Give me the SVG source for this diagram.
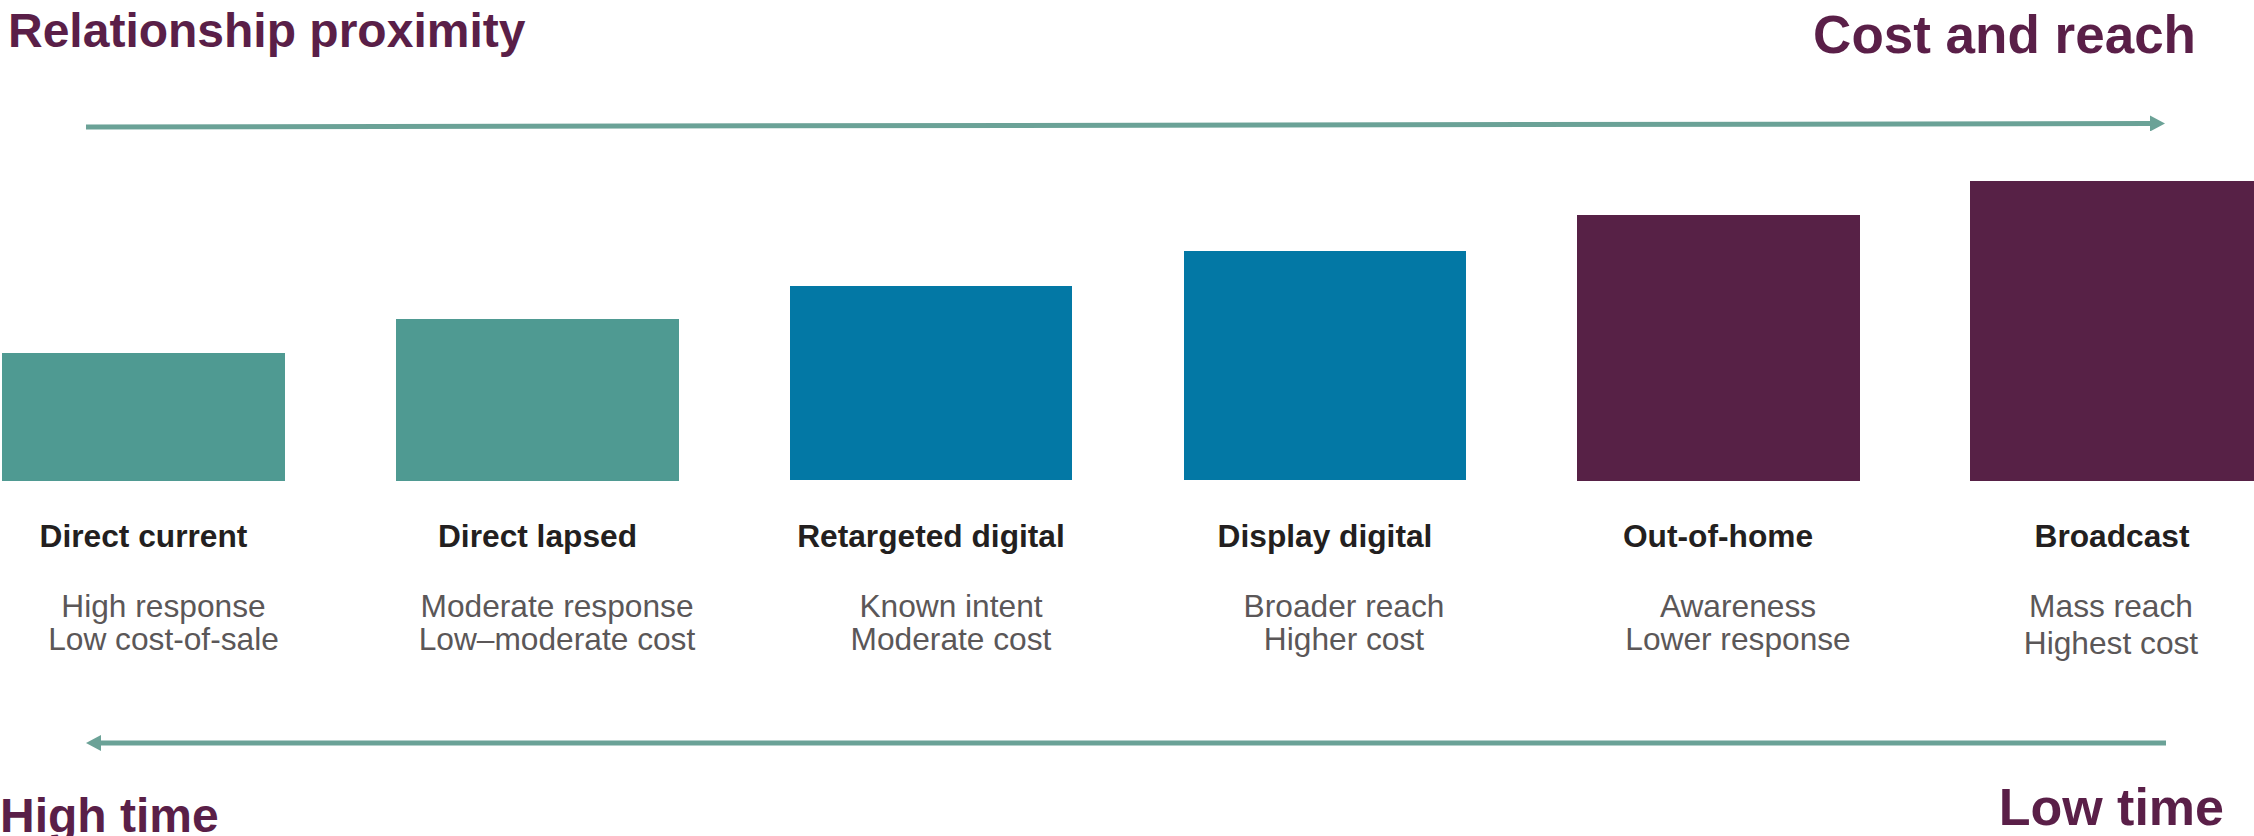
<svg xmlns="http://www.w3.org/2000/svg" width="2254" height="836" viewBox="0 0 2254 836">
  <style>
    .title { font-family: "Liberation Sans", Arial, sans-serif; font-weight: bold; fill: #5a1f48; }
    .label { font-family: "Liberation Sans", Arial, sans-serif; font-weight: bold; font-size: 31.7px; fill: #231f20; text-anchor: middle; }
    .sub { font-family: "Liberation Sans", Arial, sans-serif; font-size: 31.7px; fill: #5b5758; text-anchor: middle; }
    .teal { fill: #4f9a92; }
    .blue { fill: #0378a5; }
    .plum { fill: #572146; }
    .axis { stroke: #6ba297; stroke-width: 5; fill: none; }
  </style>
  <defs>
    <marker id="head" viewBox="0 -8 15 16" refX="0" refY="0" markerWidth="15" markerHeight="16" markerUnits="userSpaceOnUse" orient="auto">
      <path d="M0,-8 L15,0 L0,8 z" fill="#6ba297"/>
    </marker>
  </defs>

  <rect width="2254" height="836" fill="#ffffff"/>

  <!-- axis titles -->
  <text class="title" x="8" y="47" font-size="48">Relationship proximity</text>
  <text class="title" x="2196" y="53" font-size="53" text-anchor="end">Cost and reach</text>
  <text class="title" x="0" y="832" font-size="48">High time</text>
  <text class="title" x="2224" y="825" font-size="52" text-anchor="end">Low time</text>

  <!-- direction arrows -->
  <g id="connectors">
    <line class="axis" x1="86" y1="127" x2="2150" y2="123.5" marker-end="url(#head)"/>
    <line class="axis" x1="2166" y1="743" x2="101" y2="743" marker-end="url(#head)"/>
  </g>

  <!-- channel columns -->
  <g id="direct-current">
    <rect class="teal" x="2" y="353" width="283" height="128"/>
    <text class="label" x="143.5" y="547">Direct current</text>
    <text class="sub" x="163.5" y="617">High response</text>
    <text class="sub" x="163.5" y="650">Low cost-of-sale</text>
  </g>
  <g id="direct-lapsed">
    <rect class="teal" x="396" y="319" width="283" height="162"/>
    <text class="label" x="537.5" y="547">Direct lapsed</text>
    <text class="sub" x="557" y="617">Moderate response</text>
    <text class="sub" x="557" y="650">Low–moderate cost</text>
  </g>
  <g id="retargeted-digital">
    <rect class="blue" x="790" y="286" width="282" height="194"/>
    <text class="label" x="931" y="547">Retargeted digital</text>
    <text class="sub" x="951" y="617">Known intent</text>
    <text class="sub" x="951" y="650">Moderate cost</text>
  </g>
  <g id="display-digital">
    <rect class="blue" x="1184" y="251" width="282" height="229"/>
    <text class="label" x="1325" y="547">Display digital</text>
    <text class="sub" x="1344" y="617">Broader reach</text>
    <text class="sub" x="1344" y="650">Higher cost</text>
  </g>
  <g id="out-of-home">
    <rect class="plum" x="1577" y="215" width="283" height="266"/>
    <text class="label" x="1718" y="547">Out-of-home</text>
    <text class="sub" x="1738" y="617">Awareness</text>
    <text class="sub" x="1738" y="650">Lower response</text>
  </g>
  <g id="broadcast">
    <rect class="plum" x="1970" y="181" width="284" height="300"/>
    <text class="label" x="2112" y="547">Broadcast</text>
    <text class="sub" x="2111" y="617">Mass reach</text>
    <text class="sub" x="2111" y="654">Highest cost</text>
  </g>
</svg>
